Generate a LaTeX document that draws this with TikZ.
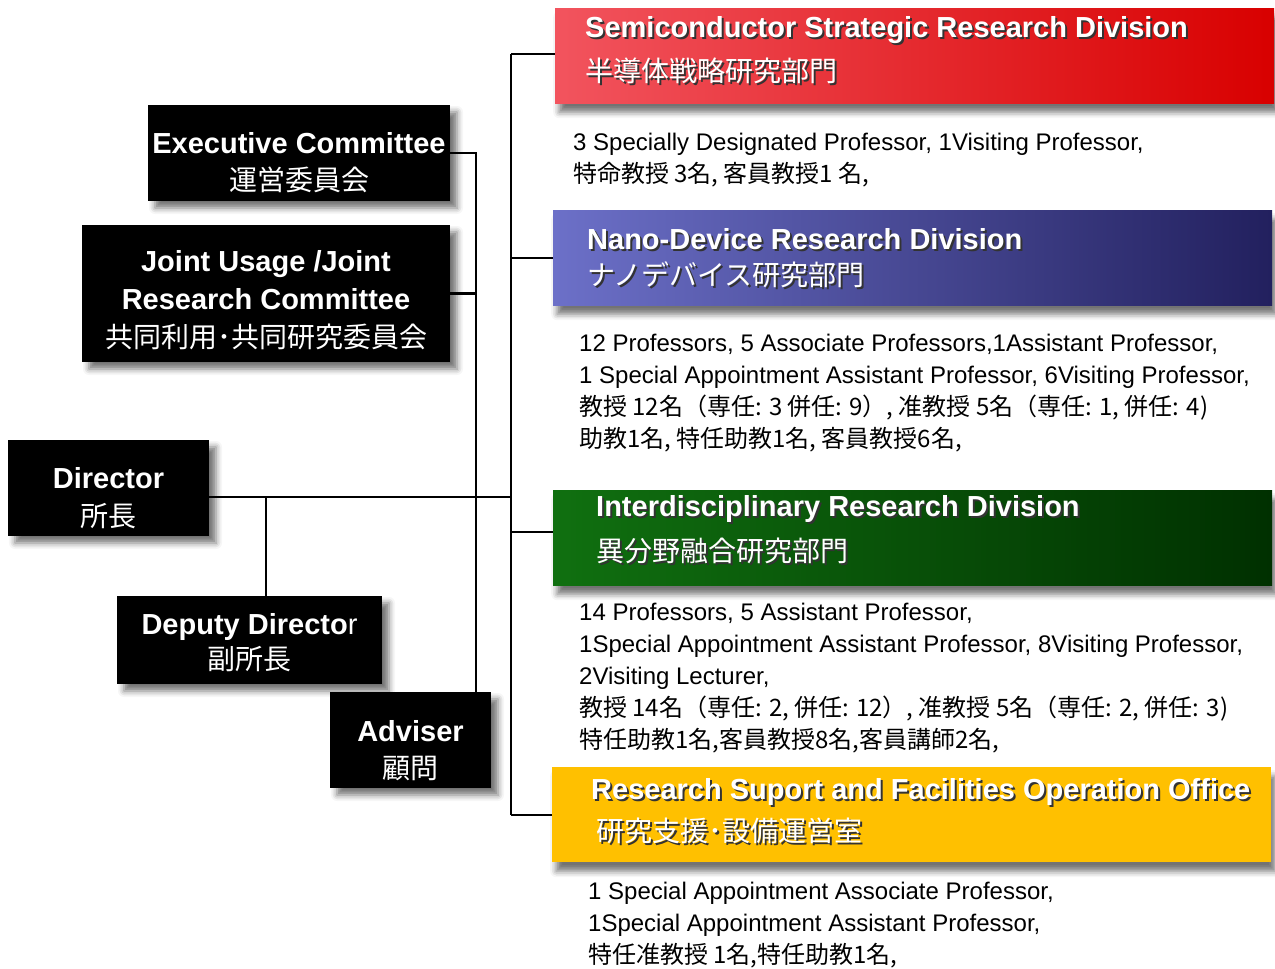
\documentclass[tikz,border=0pt]{standalone}
\usepackage{fontspec}
\setmainfont{Liberation Sans}
\newfontfamily\jp{Noto Sans CJK JP}
\usetikzlibrary{shadows.blur}
\definecolor{redA}{HTML}{F2545E}
\definecolor{redB}{HTML}{D80000}
\definecolor{bluA}{HTML}{6C70C8}
\definecolor{bluB}{HTML}{22205E}
\definecolor{grnA}{HTML}{107010}
\definecolor{grnB}{HTML}{003000}
\definecolor{yel}{HTML}{FFC000}
\newcommand\shtext[1]{\makebox[0pt][l]{\hspace{2pt}\raisebox{-2pt}{\color{black!80}#1}}#1}
\newcommand\enb{\bfseries}
\newcommand\jpb{\fontsize{28}{37}\selectfont\jp}
\newcommand\pad[1]{\rule{0pt}{#1}}
\begin{document}
\begin{tikzpicture}[x=1pt,y=-1pt,
  blackbox/.style={fill=black,text=white,align=center,inner sep=0pt,
    font=\fontsize{29}{37}\selectfont,
    blur shadow={shadow xshift=7pt,shadow yshift=-7pt,shadow blur radius=6pt,shadow opacity=55}},
  divbox/.style={anchor=north west,minimum width=719pt,minimum height=95pt,inner sep=0pt,
    blur shadow={shadow xshift=4pt,shadow yshift=-9pt,shadow blur radius=6pt,shadow opacity=55}},
  divtitle/.style={anchor=west,text=white,inner sep=0pt,font=\fontsize{29}{34}\selectfont\bfseries},
  divjp/.style={anchor=west,text=white,inner sep=0pt,font=\fontsize{28}{34}\selectfont\jp},
  body/.style={anchor=north west,align=left,inner sep=0pt,font=\fontsize{24}{32}\selectfont},
  conn/.style={line width=2.2pt},
  thinconn/.style={line width=1.3pt}]
\useasboundingbox (0,0) rectangle (1275,969);

% left side boxes
\node[blackbox,minimum width=302pt,minimum height=96pt] (exec) at (299,153)
  {\pad{40pt}{\enb Executive Committee}\\{\jpb 運営委員会}};
\node[blackbox,minimum width=368pt,minimum height=137pt,font=\fontsize{29}{38}\selectfont] (joint) at (266,293.5)
  {\pad{34pt}{\enb Joint Usage /Joint}\\{\enb Research Committee}\\{\jpb 共同利用･共同研究委員会}};
\node[blackbox,minimum width=201pt,minimum height=96pt,font=\fontsize{29}{38}\selectfont] (dir) at (108.5,488)
  {\pad{42pt}{\enb Director}\\{\jpb 所長}};
\node[blackbox,minimum width=265pt,minimum height=88pt,font=\fontsize{29}{35}\selectfont] (dep) at (249.5,640)
  {\pad{27pt}{\enb Deputy Directo{\mdseries r}}\\{\jpb 副所長}};
\node[blackbox,minimum width=161pt,minimum height=96pt] (adv) at (410.5,740)
  {\pad{42pt}{\enb Adviser}\\{\jpb 顧問}};

% division boxes
\node[divbox,left color=redA,right color=redB] (div1) at (555,8) {};
\node[divbox,left color=bluA,right color=bluB] (div2) at (553,210) {};
\node[divbox,left color=grnA,right color=grnB] (div3) at (553,490) {};
\node[divbox,fill=yel] (div4) at (552,767) {};

\node[divtitle] (div1en) at (585,31) {\shtext{Semiconductor Strategic Research Division}};
\node[divjp] (div1jp) at (585,72) {\shtext{半導体戦略研究部門}};
\node[divtitle] (div2en) at (587,240) {\shtext{Nano-Device Research Division}};
\node[divjp] (div2jp) at (587,276) {\shtext{ナノデバイス研究部門}};
\node[divtitle] (div3en) at (596,510) {\shtext{Interdisciplinary Research Division}};
\node[divjp] (div3jp) at (596,552) {\shtext{異分野融合研究部門}};
\node[divtitle] (div4en) at (591,793) {\shtext{Research Suport and Facilities Operation Office}};
\node[divjp] (div4jp) at (596,832) {\shtext{研究支援･設備運営室}};

% body texts
\node[body] (b1) at (573,133) {3 Specially Designated Professor, 1Visiting Professor,\\
  {\jp 特命教授 3名, 客員教授1 名,}};
\node[body] (b2) at (579,334) {12 Professors, 5 Associate Professors,1Assistant Professor,\\
  1 Special Appointment Assistant Professor, 6Visiting Professor,\\
  {\jp 教授 12名（専任: 3 併任: 9）, 准教授 5名（専任: 1, 併任: 4)}\\
  {\jp 助教1名, 特任助教1名, 客員教授6名,}};
\node[body] (b3) at (579,603) {14 Professors, 5 Assistant Professor,\\
  1Special Appointment Assistant Professor, 8Visiting Professor,\\
  2Visiting Lecturer,\\
  {\jp 教授 14名（専任: 2, 併任: 12）, 准教授 5名（専任: 2, 併任: 3)}\\
  {\jp 特任助教1名,客員教授8名,客員講師2名,}};
\node[body] (b4) at (588,882) {1 Special Appointment Associate Professor,\\
  1Special Appointment Assistant Professor,\\
  {\jp 特任准教授 1名,特任助教1名,}};

% connectors
\coordinate (bus) at (511,0);
\coordinate (tb) at (476,0);
\coordinate (dl) at (266,0);
\coordinate (dirline) at ([yshift=-9pt]dir.east);
\coordinate (d1) at ([yshift=2pt]div1.west);
\coordinate (d3) at ([yshift=6pt]div3.west);
\draw[conn] (bus |- d1) -- (bus |- div4.west);
\draw[conn] (bus |- d1) -- (d1);
\draw[conn] (bus |- div2.west) -- (div2.west);
\draw[conn] (bus |- d3) -- (d3);
\draw[conn] (bus |- div4.west) -- (div4.west);
\draw[conn] (dirline) -- (bus |- dirline);
\draw[thinconn] (exec.east) -| (tb |- adv.north);
\draw[conn] (joint.east) -- (tb |- joint.east);
\draw[thinconn] (dl |- dirline) -- (dl |- dep.north);
\end{tikzpicture}
\end{document}
